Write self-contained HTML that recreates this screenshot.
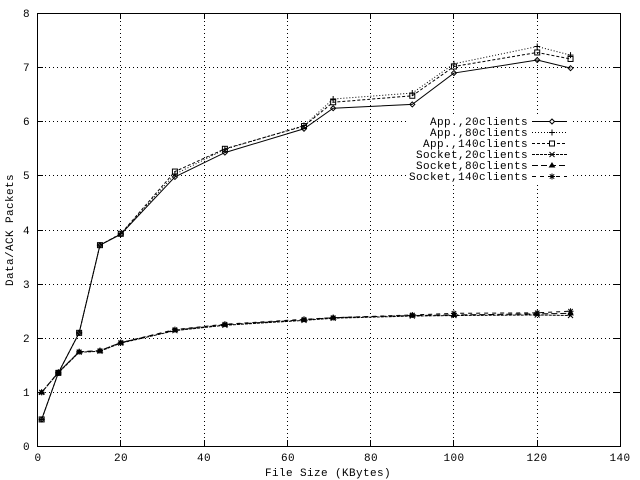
<!DOCTYPE html>
<html><head><meta charset="utf-8"><style>
html,body{margin:0;padding:0;background:#fff;}
svg{display:block;}
text{font-family:"Liberation Mono",monospace;font-size:11px;letter-spacing:0.4px;fill:#000;}
</style></head><body>
<svg width="640" height="480" viewBox="0 0 640 480" xmlns="http://www.w3.org/2000/svg">
<defs>
<marker id="mDia" markerUnits="userSpaceOnUse" markerWidth="10" markerHeight="10" refX="5" refY="5" overflow="visible"><path d="M5,2.5 L7.5,5 L5,7.5 L2.5,5 Z" fill="none" stroke="#000" stroke-width="1"/></marker>
<marker id="mPlus" markerUnits="userSpaceOnUse" markerWidth="10" markerHeight="10" refX="5" refY="5" overflow="visible"><path d="M2,5 H8 M5,2 V8" fill="none" stroke="#000" stroke-width="1"/></marker>
<marker id="mBox" markerUnits="userSpaceOnUse" markerWidth="10" markerHeight="10" refX="5" refY="5" overflow="visible"><rect x="2.5" y="2.5" width="5" height="5" fill="none" stroke="#000" stroke-width="1"/></marker>
<marker id="mX" markerUnits="userSpaceOnUse" markerWidth="10" markerHeight="10" refX="5" refY="5" overflow="visible"><path d="M2.5,2.5 L7.5,7.5 M2.5,7.5 L7.5,2.5" fill="none" stroke="#000" stroke-width="1"/></marker>
<marker id="mTri" markerUnits="userSpaceOnUse" markerWidth="10" markerHeight="10" refX="5" refY="5" overflow="visible"><path d="M5,2.5 L7.5,6.5 L2.5,6.5 Z" fill="#000" stroke="#000" stroke-width="1"/></marker>
<marker id="mStar" markerUnits="userSpaceOnUse" markerWidth="10" markerHeight="10" refX="5" refY="5" overflow="visible"><path d="M2,5 H8 M5,2 V8 M2.8,2.8 L7.2,7.2 M2.8,7.2 L7.2,2.8" fill="none" stroke="#000" stroke-width="1"/></marker>
</defs>
<rect width="640" height="480" fill="#fff"/>

<!-- grid -->
<g stroke="#000" stroke-width="1" stroke-dasharray="1,3" shape-rendering="crispEdges" fill="none">
<path d="M120.5,13 V446 M204.5,13 V446 M287.5,13 V446 M370.5,13 V446 M453.5,13 V446 M537.5,13 V446"/>
<path d="M37,392.5 H620 M37,338.5 H620 M37,284.5 H620 M37,230.5 H620 M37,175.5 H620 M37,121.5 H620 M37,67.5 H620"/>
</g>

<!-- key background -->
<rect x="406" y="115" width="165" height="67" fill="#fff"/>

<!-- series -->
<g fill="none" stroke="#000" stroke-width="1">
<polyline marker-start="url(#mDia)" marker-mid="url(#mDia)" marker-end="url(#mDia)" points="41.66,419.44 58.32,372.89 79.14,332.84 99.96,245.15 120.79,234.33 174.92,176.96 224.89,152.6 304,128.79 333.16,108.22 412.29,104.43 453.93,73.04 537.21,60.05 570.53,68.17"/>
<polyline stroke-dasharray="1,2" marker-start="url(#mPlus)" marker-mid="url(#mPlus)" marker-end="url(#mPlus)" points="41.66,419.44 58.32,372.89 79.14,332.84 99.96,245.15 120.79,233.79 174.92,174.25 224.89,149.35 304,125.54 333.16,99.02 412.29,93.06 453.93,63.82 537.21,46.51 570.53,55.16"/>
<polyline stroke-dasharray="3,2" marker-start="url(#mBox)" marker-mid="url(#mBox)" marker-end="url(#mBox)" points="41.66,419.44 58.32,372.89 79.14,332.84 99.96,245.15 120.79,233.79 174.92,171.55 224.89,148.81 304,126.08 333.16,102.26 412.29,95.77 453.93,66.52 537.21,52.47 570.53,58.97"/>
<polyline stroke-dasharray="3,1" marker-start="url(#mX)" marker-mid="url(#mX)" marker-end="url(#mX)" points="41.66,392.38 58.32,372.89 79.14,352.32 99.96,351.24 120.79,343.12 174.92,330.67 224.89,325.26 304,320.39 333.16,318.22 412.29,316.06 453.93,315.52 537.21,314.98 570.53,315.52"/>
<polyline stroke-dasharray="6,3" marker-start="url(#mTri)" marker-mid="url(#mTri)" marker-end="url(#mTri)" points="41.66,392.38 58.32,372.35 79.14,351.78 99.96,350.7 120.79,342.58 174.92,330.13 224.89,324.72 304,319.85 333.16,317.68 412.29,315.52 453.93,314.98 537.21,313.89 570.53,313.35"/>
<polyline stroke-dasharray="4,4" marker-start="url(#mStar)" marker-mid="url(#mStar)" marker-end="url(#mStar)" points="41.66,392.38 58.32,372.35 79.14,351.78 99.96,350.7 120.79,342.58 174.92,329.59 224.89,324.18 304,319.31 333.16,317.68 412.29,314.98 453.93,313.35 537.21,312.81 570.53,311.19"/>
</g>

<!-- key -->
<g text-anchor="end">
<text x="528" y="125">App.,20clients</text>
<text x="528" y="136">App.,80clients</text>
<text x="528" y="147">App.,140clients</text>
<text x="528" y="158">Socket,20clients</text>
<text x="528" y="169">Socket,80clients</text>
<text x="528" y="180">Socket,140clients</text>
</g>
<g fill="none" stroke="#000" stroke-width="1">
<line x1="532" y1="121.5" x2="567" y2="121.5"/>
<line x1="532" y1="132.5" x2="567" y2="132.5" stroke-dasharray="1,2"/>
<line x1="532" y1="143.5" x2="567" y2="143.5" stroke-dasharray="3,2"/>
<line x1="532" y1="154.5" x2="567" y2="154.5" stroke-dasharray="3,1"/>
<line x1="532" y1="165.5" x2="567" y2="165.5" stroke-dasharray="6,3"/>
<line x1="532" y1="176.5" x2="567" y2="176.5" stroke-dasharray="4,4"/>
</g>
<g fill="none" stroke="#000" stroke-width="1">
<path d="M552,119 L554.5,121.5 L552,124 L549.5,121.5 Z" fill="#fff"/>
<path d="M549,132.5 H555 M552,129.5 V135.5"/>
<rect x="549.5" y="141" width="5" height="5" fill="#fff"/>
<path d="M549.5,152 L554.5,157 M549.5,157 L554.5,152"/>
<path d="M552,163 L554.5,167 L549.5,167 Z" fill="#000"/>
<path d="M549,176.5 H555 M552,173.5 V179.5 M549.8,174.3 L554.2,178.7 M549.8,178.7 L554.2,174.3"/>
</g>

<!-- ticks -->
<g stroke="#000" stroke-width="1" shape-rendering="crispEdges" fill="none">
<path d="M120.5,446 V440 M204.5,446 V440 M287.5,446 V440 M370.5,446 V440 M453.5,446 V440 M537.5,446 V440"/>
<path d="M120.5,13 V19 M204.5,13 V19 M287.5,13 V19 M370.5,13 V19 M453.5,13 V19 M537.5,13 V19"/>
<path d="M37,392.5 H43 M37,338.5 H43 M37,284.5 H43 M37,230.5 H43 M37,175.5 H43 M37,121.5 H43 M37,67.5 H43"/>
<path d="M620,392.5 H614 M620,338.5 H614 M620,284.5 H614 M620,230.5 H614 M620,175.5 H614 M620,121.5 H614 M620,67.5 H614"/>
<rect x="37.5" y="13.5" width="583" height="433"/>
</g>

<!-- y tick labels -->
<g text-anchor="end">
<text x="30" y="450">0</text>
<text x="30" y="396">1</text>
<text x="30" y="342">2</text>
<text x="30" y="288">3</text>
<text x="30" y="234">4</text>
<text x="30" y="179">5</text>
<text x="30" y="125">6</text>
<text x="30" y="71">7</text>
<text x="30" y="17">8</text>
</g>
<!-- x tick labels -->
<g text-anchor="middle">
<text x="38" y="461">0</text>
<text x="121" y="461">20</text>
<text x="204" y="461">40</text>
<text x="288" y="461">60</text>
<text x="371" y="461">80</text>
<text x="454" y="461">100</text>
<text x="537" y="461">120</text>
<text x="620" y="461">140</text>
</g>
<text x="328" y="476" text-anchor="middle">File Size (KBytes)</text>
<text transform="translate(13,230) rotate(-90)" text-anchor="middle">Data/ACK Packets</text>
</svg>
</body></html>
